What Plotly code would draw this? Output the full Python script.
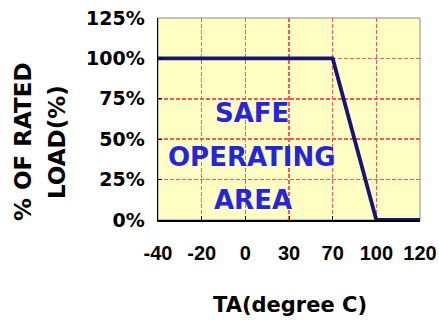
import plotly.graph_objects as go

categories = ["-40", "-20", "0", "30", "70", "100", "120"]
load_pct = [100, 100, 100, 100, 100, 0, 0]
y_ticks = [0, 25, 50, 75, 100, 125]
y_tick_labels = ["0%", "25%", "50%", "75%", "100%", "125%"]
area_text = ["SAFE", "OPERATING", "AREA"]

ARIAL = "Liberation Sans, Arial, sans-serif"
DEJAVU = "DejaVu Sans, sans-serif"
W, H = 439, 320
L, R, T, B = 158, 19, 18, 100
pw, ph = W - L - R, H - T - B


def px_to_paper(px, py):
    return (px - L) / pw, (H - B - py) / ph


xs = list(range(len(categories)))

fig = go.Figure()
fig.add_trace(go.Scatter(
    x=xs, y=load_pct, mode="lines",
    line=dict(color="#14147a", width=3.8),
    hoverinfo="skip", showlegend=False, cliponaxis=False,
))

grid = dict(showgrid=True, gridcolor="#f25a5a", griddash="4px,2px", gridwidth=1.6)

fig.update_layout(
    width=W, height=H,
    margin=dict(l=L, r=R, t=T, b=B, autoexpand=False),
    paper_bgcolor="white",
    plot_bgcolor="#ffffc4",
    font=dict(family=ARIAL, color="black"),
    xaxis=dict(
        range=[0, len(categories) - 1], automargin=False,
        tickmode="array", tickvals=xs, ticktext=[f"<b>{c}</b>" for c in categories],
        tickfont=dict(size=20, family=ARIAL, color="black"),
        showline=True, linecolor="black", linewidth=1.5,
        ticks="inside", ticklen=4, tickcolor="black",
        zeroline=False, ticklabelstandoff=14, **grid,
    ),
    yaxis=dict(
        range=[0, 125], automargin=False,
        tickmode="array", tickvals=y_ticks, ticktext=[f"<b>{t}</b>" for t in y_tick_labels],
        tickfont=dict(size=19, family=DEJAVU, color="black"),
        showline=True, linecolor="black", linewidth=1.5,
        ticks="inside", ticklen=4, tickcolor="black",
        zeroline=False, ticklabelstandoff=8, **grid,
    ),
    shapes=[
        dict(type="rect", xref="paper", yref="paper", x0=0, x1=1, y0=0, y1=1,
             line=dict(color="#888888", width=1), fillcolor="rgba(0,0,0,0)", layer="below"),
    ],
)

ann = []
for txt, (cx, cy) in zip(area_text, [(252, 113), (252, 157), (253, 200)]):
    ax, ay = px_to_paper(cx, cy)
    ann.append(dict(x=ax, y=ay, xref="paper", yref="paper", text=f"<b>{txt}</b>",
                    xanchor="center", yanchor="middle",
                    showarrow=False, font=dict(size=26, color="#2424e4", family=DEJAVU)))

for txt, cx in [("% OF RATED", 23), ("LOAD(%)", 57)]:
    ax, ay = px_to_paper(cx, 142)
    ann.append(dict(x=ax, y=ay, xref="paper", yref="paper", text=f"<b>{txt}</b>",
                    xanchor="center", yanchor="middle",
                    showarrow=False, textangle=-90,
                    font=dict(size=23, family=DEJAVU, color="black")))

ax, ay = px_to_paper(290, 305)
ann.append(dict(x=ax, y=ay, xref="paper", yref="paper", text="<b>TA(degree C)</b>",
                xanchor="center", yanchor="middle",
                showarrow=False, font=dict(size=21, family=DEJAVU, color="black")))

fig.update_layout(annotations=ann)
fig.write_html("out.html", config={"displayModeBar": False, "staticPlot": True},
               post_script="document.body.style.margin='0';document.body.style.overflow='hidden';")
